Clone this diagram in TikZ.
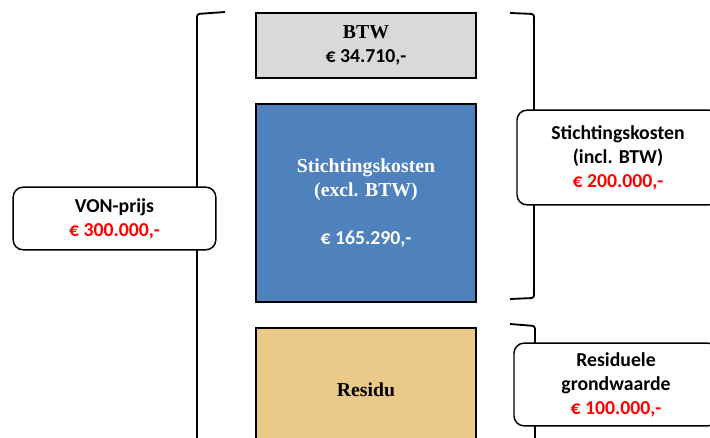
\documentclass[tikz,border=0pt]{standalone}
\usepackage{fontspec}
\setmainfont{Carlito}
\newfontfamily\kop{Liberation Serif}
\usetikzlibrary{positioning}
\definecolor{btwgrey}{HTML}{D9D9D9}
\definecolor{skblue}{HTML}{4F81BD}
\definecolor{restan}{HTML}{EBC988}
\definecolor{amount}{HTML}{FF0000}

\begin{document}
\begin{tikzpicture}[x=0.75pt,y=-0.75pt,
  font=\fontsize{14.8}{18}\selectfont\bfseries,
  blok/.style={draw=black,line width=1.4pt,align=center,inner sep=0pt,minimum width=165pt},
  callout/.style={draw=black,line width=1.1pt,fill=white,rounded corners=7.5pt,align=center,inner sep=0pt},
  haak/.style={draw=black,line width=1.4pt,rounded corners=2pt}]
\clip (0,0) rectangle (710,438);
% brackets
\draw[haak] (225,12) -- (197,14) -- (197,450);
\draw[haak] (510,13) -- (534,14) -- (534,298) -- (510,299);
\draw[haak] (510,324) -- (535,326) -- (535,450);
% price build-up
\node[blok,fill=btwgrey,minimum height=48.75pt] (btw) at (366,45.5) {{\kop BTW}\\€ 34.710,-};
\node[blok,fill=skblue,text=white,minimum height=148.5pt,below=18pt of btw] (excl) {{\kop Stichtingskosten}\\{\kop (excl. BTW)}\\[18pt]€ 165.290,-};
\node[blok,fill=restan,minimum height=93pt,below=18pt of excl] (residu) {{\kop Residu}};
% callouts
\node[callout,minimum width=152pt,minimum height=47pt] (von) at (114.5,218.5) {VON-prijs\\\textcolor{amount}{€ 300.000,-}};
\node[callout,minimum width=151.5pt,minimum height=71pt] (sk) at (618,157.5) {Stichtingskosten\\(incl. BTW)\\\textcolor{amount}{€ 200.000,-}};
\node[callout,minimum width=153pt,minimum height=62pt] (rg) at (616,384.5) {Residuele\\grondwaarde\\\textcolor{amount}{€ 100.000,-}};
\end{tikzpicture}
\end{document}
